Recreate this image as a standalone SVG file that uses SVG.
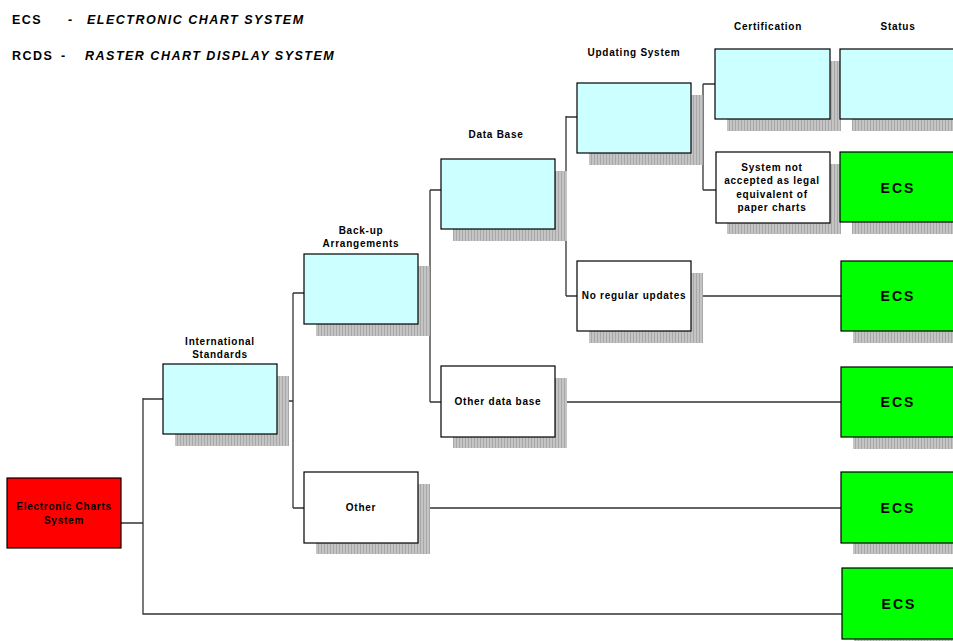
<svg xmlns="http://www.w3.org/2000/svg" width="953" height="641" viewBox="0 0 953 641">
<defs>
<pattern id="hatch" width="3" height="4" patternUnits="userSpaceOnUse">
<rect width="3" height="4" fill="#c4c4c4"/>
<rect width="1" height="4" fill="#a8a8a8"/>
</pattern>
<style>
.sh{fill:url(#hatch)}
.box{stroke:#000;stroke-width:1.2}
.cy{fill:#ccffff}
.wh{fill:#fff}
.gr{fill:#00ff00}
.rd{fill:#ff0000}
.t{font-family:"Liberation Sans",Arial,sans-serif;font-weight:bold;font-size:10px;letter-spacing:0.75px;fill:#000;text-anchor:middle}
.ecs{font-family:"Liberation Sans",Arial,sans-serif;font-weight:bold;font-size:14px;letter-spacing:2px;fill:#000;text-anchor:middle}
.leg{font-family:"Liberation Sans",Arial,sans-serif;font-weight:bold;font-size:12.5px;letter-spacing:1.5px;fill:#000}
.it{font-style:italic}
#connectors path{fill:none;stroke:#333;stroke-width:1.3}
</style>
</defs>
<rect width="953" height="641" fill="#fff"/>

<g id="legend">
<text class="leg" x="12" y="24">ECS</text>
<text class="leg" x="68" y="24">-</text>
<text class="leg it" x="87" y="24">ELECTRONIC CHART SYSTEM</text>
<text class="leg" x="12" y="60">RCDS</text>
<text class="leg" x="61" y="60">-</text>
<text class="leg it" x="85" y="60">RASTER CHART DISPLAY SYSTEM</text>
</g>

<g id="headers">
<text class="t" x="768" y="30">Certification</text>
<text class="t" x="898" y="30">Status</text>
<text class="t" x="634" y="56">Updating System</text>
<text class="t" x="496" y="138">Data Base</text>
<text class="t" x="361" y="234">Back-up</text>
<text class="t" x="361" y="247">Arrangements</text>
<text class="t" x="220" y="345">International</text>
<text class="t" x="220" y="358">Standards</text>
</g>

<g id="connectors">
<path d="M121 523H143M143 398V614H842"/>
<path d="M143 399H163M277 401H293M293 293V508M293 293H304M293 508H304M418 508H841"/>
<path d="M418 296H430M430 190V402M430 190H441M430 402H441M555 402H841"/>
<path d="M555 190H566M566 116V296M566 117H577M566 296H577M691 296H841"/>
<path d="M691 119H703M703 84V190M703 84H715M703 190H716M830 84H840M830 190H840"/>
</g>

<g id="n-root"><rect class="box rd" x="7" y="478" width="114" height="70"/><text class="t" x="64" y="510">Electronic Charts</text><text class="t" x="64" y="524">System</text></g>

<g id="n-intl"><rect class="sh" x="175" y="376" width="114" height="70"/><rect class="box cy" x="163" y="364" width="114" height="70"/></g>

<g id="n-backup"><rect class="sh" x="316" y="266" width="114" height="70"/><rect class="box cy" x="304" y="254" width="114" height="70"/></g>

<g id="n-other"><rect class="sh" x="316" y="484" width="114" height="70"/><rect class="box wh" x="304" y="472" width="114" height="71"/><text class="t" x="361" y="511">Other</text></g>

<g id="n-database"><rect class="sh" x="453" y="171" width="114" height="70"/><rect class="box cy" x="441" y="159" width="114" height="70"/></g>

<g id="n-otherdb"><rect class="sh" x="453" y="378" width="114" height="70"/><rect class="box wh" x="441" y="366" width="114" height="71"/><text class="t" x="498" y="405">Other data base</text></g>

<g id="n-updating"><rect class="sh" x="589" y="95" width="114" height="70"/><rect class="box cy" x="577" y="83" width="114" height="70"/></g>

<g id="n-noupd"><rect class="sh" x="589" y="273" width="114" height="70"/><rect class="box wh" x="577" y="261" width="114" height="70"/><text class="t" x="634" y="299">No regular updates</text></g>

<g id="n-cert"><rect class="sh" x="727" y="61" width="114" height="70"/><rect class="box cy" x="715" y="49" width="115" height="70"/></g>

<g id="n-notaccepted"><rect class="sh" x="727" y="164" width="114" height="70"/><rect class="box wh" x="716" y="152" width="114" height="71"/><text class="t" x="772" y="171">System not</text><text class="t" x="772" y="184">accepted as legal</text><text class="t" x="772" y="198">equivalent of</text><text class="t" x="772" y="211">paper charts</text></g>

<g id="n-status"><rect class="sh" x="852" y="61" width="114" height="70"/><rect class="box cy" x="840" y="49" width="120" height="70"/></g>

<g id="n-ecs1"><rect class="sh" x="852" y="164" width="114" height="70"/><rect class="box gr" x="840" y="152" width="120" height="70"/><text class="ecs" x="898" y="193">ECS</text></g>

<g id="n-ecs2"><rect class="sh" x="853" y="273" width="114" height="70"/><rect class="box gr" x="841" y="261" width="120" height="70"/><text class="ecs" x="898" y="301">ECS</text></g>

<g id="n-ecs3"><rect class="sh" x="853" y="379" width="114" height="70"/><rect class="box gr" x="841" y="367" width="120" height="70"/><text class="ecs" x="898" y="407">ECS</text></g>

<g id="n-ecs4"><rect class="sh" x="853" y="484" width="114" height="70"/><rect class="box gr" x="841" y="472" width="120" height="71"/><text class="ecs" x="898" y="513">ECS</text></g>

<g id="n-ecs5"><rect class="sh" x="854" y="580" width="114" height="70"/><rect class="box gr" x="842" y="568" width="120" height="71"/><text class="ecs" x="899" y="609">ECS</text></g>
</svg>
